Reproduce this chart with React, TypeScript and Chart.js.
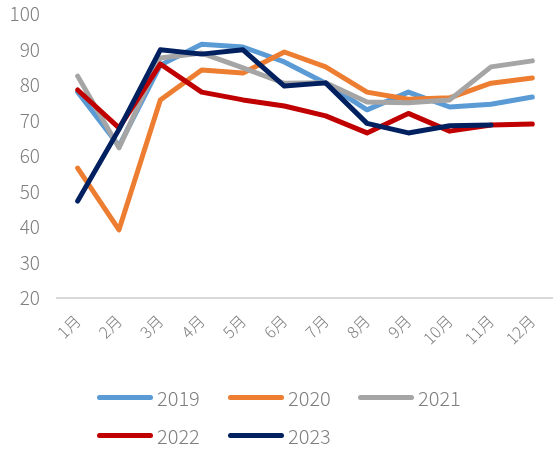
import React, { useEffect, useRef } from "react";
import { Chart, registerables } from "chart.js";

Chart.register(...registerables);

const months = ["1月", "2月", "3月", "4月", "5月", "6月", "7月", "8月", "9月", "10月", "11月", "12月"];
const yTicks = [20, 30, 40, 50, 60, 70, 80, 90, 100];

const s2019 = [78, 62.8, 85.6, 91.5, 90.7, 86.5, 80.5, 73, 78, 73.8, 74.6, 76.6];
const s2020 = [56.6, 39.2, 75.8, 84.2, 83.4, 89.3, 85.1, 78, 76, 76.4, 80.5, 82];
const s2021 = [82.5, 62.3, 87.6, 89, 84.8, 80.5, 80.6, 75.2, 75, 75.8, 85.1, 86.8];
const s2022 = [78.6, 67.9, 85.9, 78, 75.8, 74.1, 71.3, 66.5, 72, 67, 68.7, 69];
const s2023 = [47.3, 67.5, 89.9, 88.7, 89.9, 79.7, 80.6, 69.2, 66.5, 68.5, 68.7, null];

const seriesNames = ["2019", "2020", "2021", "2022", "2023"];
const seriesData = [s2019, s2020, s2021, s2022, s2023];
const colors = ["#5B9BD5", "#ED7D31", "#A5A5A5", "#C00000", "#002060"];

const FONT = "'Noto Sans CJK SC', 'Noto Sans', sans-serif";
const TEXT = "#7f7f7f";

export default function App() {
  const ref = useRef<HTMLCanvasElement | null>(null);

  useEffect(() => {
    document.body.style.margin = "0";
    const ctx = ref.current!;
    const chart = new Chart(ctx, {
      type: "line",
      data: {
        labels: months,
        datasets: seriesNames.map((n, i) => ({
          label: n,
          data: seriesData[i] as any,
          borderColor: colors[i],
          backgroundColor: colors[i],
          borderWidth: 5,
          pointRadius: 0,
          tension: 0,
          borderCapStyle: "round" as const,
          borderJoinStyle: "round" as const,
          spanGaps: false,
          order: 5 - i,
        })),
      },
      options: {
        animation: false,
        responsive: false,
        maintainAspectRatio: false,
        layout: { padding: { top: 14, right: 0, left: 0, bottom: 0 } },
        plugins: { legend: { display: false }, tooltip: { enabled: false } },
        scales: {
          x: {
            offset: true,
            grid: { display: false, drawTicks: false },
            border: { display: true, color: "#d9d9d9", width: 2 },
            ticks: {
              color: TEXT,
              font: { family: FONT, size: 16, weight: "300" as any },
              minRotation: 45,
              maxRotation: 45,
              padding: 13,
              autoSkip: false,
            },
            afterFit: (s: any) => {
              s.height = 152;
              s.paddingLeft = 0;
              s.paddingRight = 0;
            },
          },
          y: {
            min: 20,
            max: 100,
            afterBuildTicks: (s: any) => {
              s.ticks = yTicks.map((v) => ({ value: v }));
            },
            grid: { display: false, drawTicks: false },
            border: { display: false },
            ticks: {
              color: TEXT,
              font: { family: FONT, size: 19, weight: "300" as any },
              padding: 17,
            },
            afterFit: (s: any) => {
              s.width = 57;
              s.paddingTop = 0;
              s.paddingBottom = 0;
            },
          },
        },
      },
    });
    return () => chart.destroy();
  }, []);

  const cols = [97, 228, 358];
  const rows = [397, 435];

  return (
    <div style={{ position: "relative", width: 553, height: 450, background: "#fff" }}>
      <canvas ref={ref} width={553} height={450} style={{ position: "absolute", left: 0, top: 0 }} />
      {seriesNames.map((n, i) => {
        const col = i < 3 ? cols[i] : cols[i - 3];
        const row = i < 3 ? rows[0] : rows[1];
        return (
          <div
            key={n}
            style={{
              position: "absolute",
              left: col,
              top: row - 14,
              height: 28,
              display: "flex",
              alignItems: "center",
              fontFamily: FONT,
              fontSize: 20,
              fontWeight: 300,
              color: TEXT,
              whiteSpace: "nowrap",
            }}
          >
            <span
              style={{
                display: "inline-block",
                width: 56,
                height: 5,
                borderRadius: 3,
                background: colors[i],
                marginRight: 4,
              }}
            />
            <span>{n}</span>
          </div>
        );
      })}
    </div>
  );
}
